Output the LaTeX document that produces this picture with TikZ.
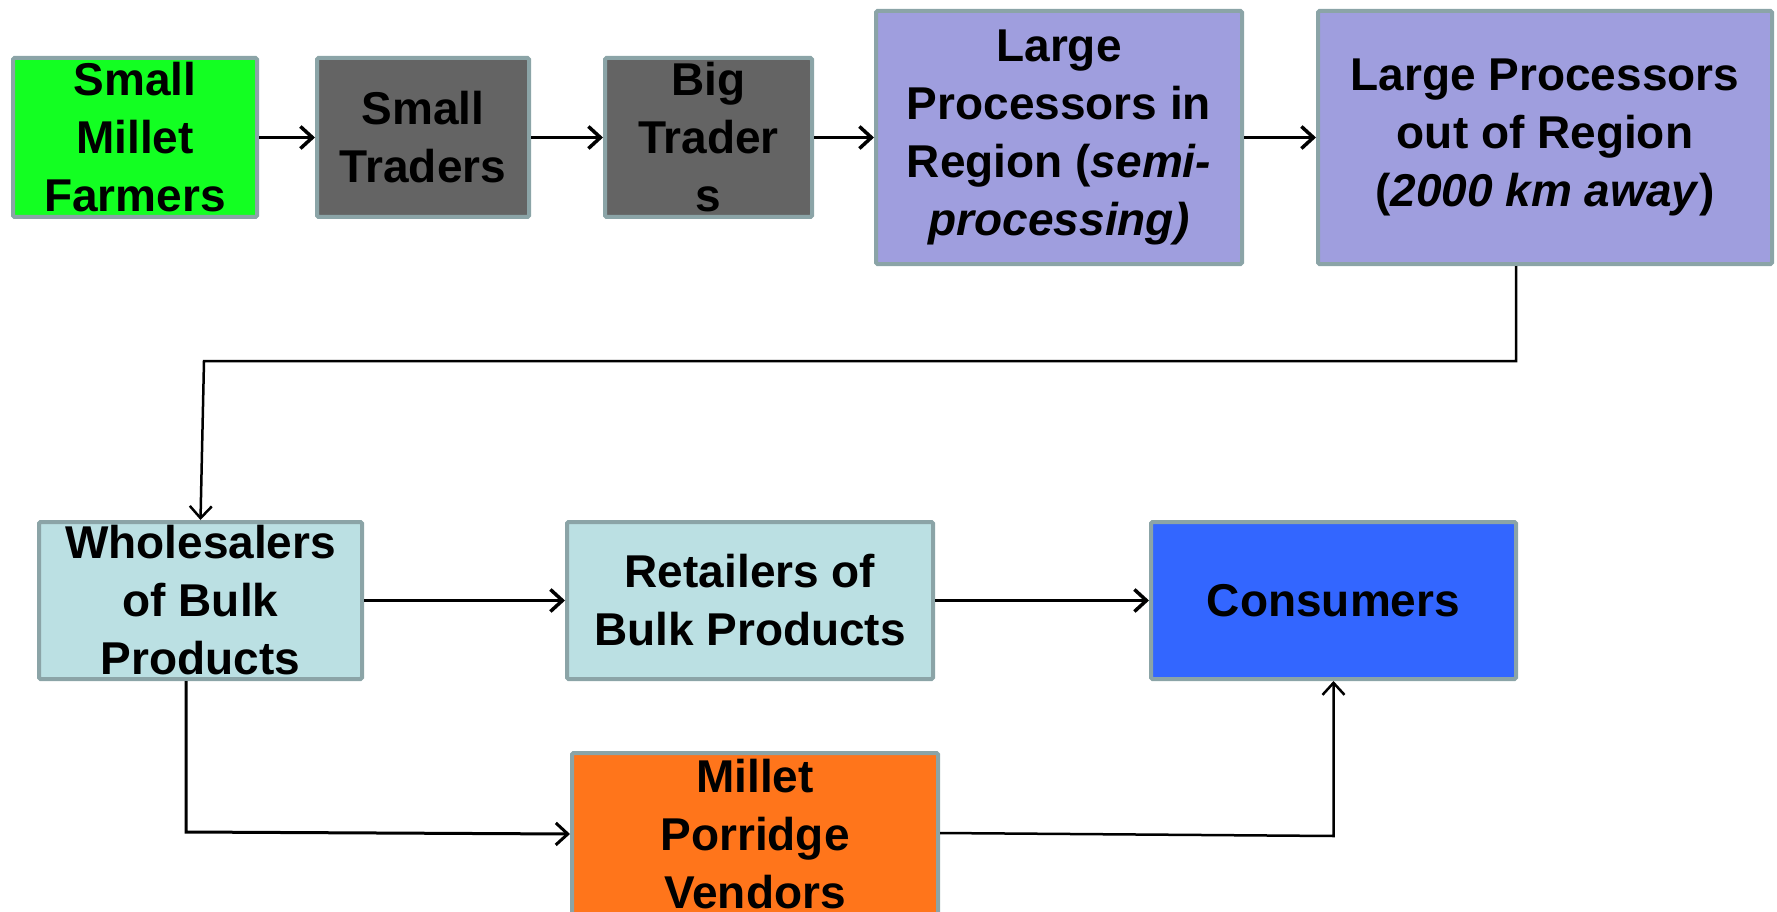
\documentclass[tikz,border=0pt]{standalone}
\usepackage{fontspec}
\setmainfont{Liberation Sans}
\usetikzlibrary{arrows.meta}
\definecolor{bordc}{RGB}{139,164,167}
\definecolor{cgreen}{RGB}{19,255,34}
\definecolor{cgray}{RGB}{100,100,100}
\definecolor{clav}{RGB}{159,158,222}
\definecolor{clight}{RGB}{187,224,227}
\definecolor{cblue}{RGB}{51,102,255}
\definecolor{corange}{RGB}{255,117,27}
\tikzset{
  box/.style={draw=bordc, line width=4pt, rounded corners=1.5pt, inner sep=0pt, align=center,
    font=\fontsize{46}{58}\selectfont\bfseries},
  arr/.style={-{Straight Barb[length=12pt,width=22pt]}, line width=3.5pt, black},
  thinarr/.style={-{Straight Barb[length=12pt,width=22pt]}, line width=2.5pt, black}
}
\begin{document}
\begin{tikzpicture}[x=1pt,y=-1pt]
\useasboundingbox (0,0) rectangle (1777,912);
\clip (0,0) rectangle (1777,912);
\node[box, fill=cgreen, minimum width=244, minimum height=159] (b1) at (135,137.5) {Small\\Millet\\Farmers};
\node[box, fill=cgray, minimum width=212, minimum height=159] (b2) at (423,137.5) {Small\\Traders};
\node[box, fill=cgray, minimum width=207, minimum height=159] (b3) at (708.5,137.5) {Big\\Trader\\s};
\node[box, fill=clav, minimum width=366, minimum height=253] (b4) at (1059,137.5) {Large\\Processors in\\Region (\textit{semi-}\\\textit{processing)}};
\node[box, fill=clav, minimum width=454, minimum height=253] (b5) at (1545,137.5) {Large Processors\\out of Region\\(\textit{2000 km away})};
\node[box, fill=clight, minimum width=323, minimum height=157] (b6) at (200.5,600.5) {Wholesalers\\of Bulk\\Products};
\node[box, fill=clight, minimum width=366, minimum height=157] (b7) at (750,600.5) {Retailers of\\Bulk Products};
\node[box, fill=cblue, minimum width=365, minimum height=157] (b8) at (1333.5,600.5) {Consumers};
\node[box, fill=corange, minimum width=366, minimum height=162] (b9) at (755,834) {Millet\\Porridge\\Vendors};

\draw[arr] (b1.east) -- (b2.west);
\draw[arr] (b2.east) -- (b3.west);
\draw[arr] (b3.east) -- (b4.west);
\draw[arr] (b4.east) -- (b5.west);

\coordinate (c1) at (1516,361);
\coordinate (c2) at (204,361);
\draw[thinarr] (b5.south -| c1) -- (c1) -- (c2) -- (b6.north);

\draw[arr] (b6.east) -- (b7.west);
\draw[arr] (b7.east) -- (b8.west);

\coordinate (d1) at (186,832);
\coordinate (d2) at (570,834);
\draw[thinarr, line width=3pt] (b6.south -| d1) -- (d1) -- (b9.west |- d2);

\coordinate (e1) at (942,833);
\coordinate (e2) at (1333.5,836);
\draw[thinarr] (b9.east |- e1) -- (e2) -- (b8.south);
\end{tikzpicture}
\end{document}
